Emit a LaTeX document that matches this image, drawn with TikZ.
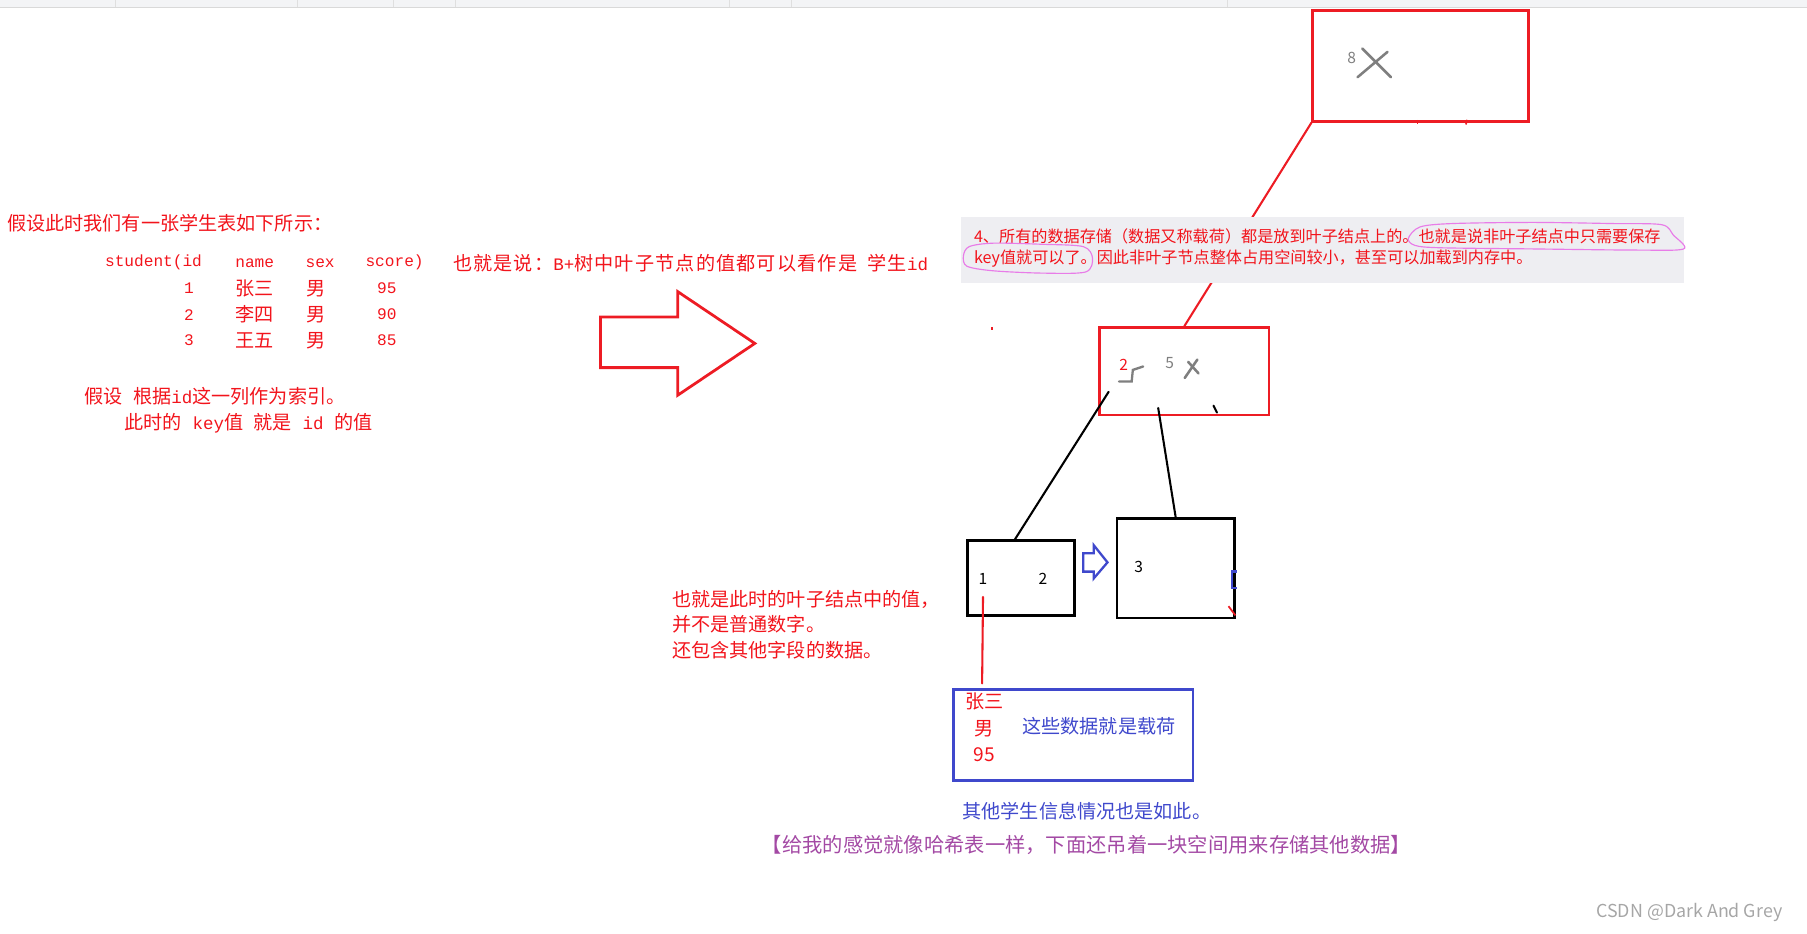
\documentclass[tikz,border=0pt]{standalone}
\usepackage{fontspec}
\usepackage{tikz}
\usetikzlibrary{arrows.meta,positioning,calc}
\newfontfamily\cjk{Noto Sans CJK SC}
\newfontfamily\monof{Liberation Mono}
\definecolor{PaintRed}{HTML}{ED1C24}
\definecolor{NoteRed}{HTML}{F2141C}
\definecolor{PaintBlue}{HTML}{3F48CC}
\definecolor{PaintPurple}{HTML}{A349A4}
\definecolor{PenPink}{HTML}{E87CE8}
\definecolor{NoteGrey}{HTML}{EEEEF2}
\definecolor{MarkGrey}{HTML}{7F7F7F}
\definecolor{BarGrey}{HTML}{F3F4F6}
\newcommand{\half}[1]{{\monof\fontsize{15.2}{17}\selectfont #1}}

\begin{document}
\begin{tikzpicture}[x=1pt, y=-1pt,
  every node/.style={font=\cjk\fontsize{16.6}{19}\selectfont, inner sep=0pt},
  note/.style={anchor=west, text=#1},
  note/.default=NoteRed,
  small/.style={font=\cjk\fontsize{14}{16}\selectfont},
  digit/.style={font=\cjk\fontsize{13.5}{15}\selectfont, text=#1},
  digit/.default=black,
  cell/.style={font=\monof\fontsize{14}{16}\selectfont, text=NoteRed, anchor=west},
  keybox/.style={draw=#1, line width=2.4pt, anchor=north west},
  scribble/.style={draw=MarkGrey, line width=2.2pt, line cap=round},
  link/.style={line width=1.8pt, line cap=round},
  loop/.style={draw=PenPink, line width=1pt}
]
\useasboundingbox (0,0) rectangle (1568,810);

% window toolbar
\fill[BarGrey] (0,0) rectangle (1568,6);
\draw[gray!30] (0,6.5) -- (1568,6.5);
\foreach \sx in {100,258,341,395,633,687,1065}
  \draw[gray!25] (\sx,0) -- (\sx,6);

% student table
\node[note] (intro) at (6,194) {假设此时我们有一张学生表如下所示：};
\node[cell] (hid) at (91,228) {student(id};
\node[cell] (hname) at (204,228) {name};
\node[cell] (hsex) at (265,228) {sex};
\node[cell] (hscore) at (317,228) {score)};
\foreach \id/\name/\score [count=\r] in {1/张三/95, 2/李四/90, 3/王五/85} {
  \node[cell, anchor=center] (id\r) at (164,228+22.5*\r) {\id};
  \node[note] (name\r) at (204,228+22.5*\r) {\name};
  \node[note] (sex\r) at (266,228+22.5*\r) {男};
  \node[cell] (score\r) at (327,228+22.5*\r) {\score};
}
\node[note] (index) at (73,344) {假设\half{ }根据\half{id}这一列作为索引。};
\node[note] (keyis) at (108,367) {此时的\half{ key}值\half{ }就是\half{ id }的值};
\node[note] (leafval) at (393,228) {\addfontfeatures{LetterSpace=6}也就是说：\half{B+}树中叶子节点的值都可以看作是\half{ }学生\half{id}};

% big arrow
\draw[draw=PaintRed, line width=2.4pt] (521,275) -- (588,275) -- (588,253) -- (655,298)
  -- (588,343) -- (588,319) -- (521,319) -- cycle;
\fill[PaintRed] (860,284) rectangle (862,286);

% tree
\node[keybox=PaintRed, minimum width=187, minimum height=96] (root) at (1138,8) {};
\node[keybox=PaintRed, minimum width=147, minimum height=76] (mid) at (953,283) {};
\node[keybox=black, minimum width=93, minimum height=65] (leaf1) at (838,468) {};
\node[keybox=black, minimum width=102, minimum height=86] (leaf2) at (968,449) {};
\node[keybox=PaintBlue, minimum width=208, minimum height=79] (payload) at (826,597) {};

\draw[link, PaintRed] (root.south west) -- (mid.north);
\draw[PaintRed, line width=1.5pt] (1230,104) -- (1230,108);
\draw[PaintRed, line width=1.5pt] (1273,104) -- (1272,108);

% note on the grey band
\node[fill=NoteGrey, anchor=north west, minimum width=627, minimum height=57] (band) at (834,188) {};
\node[note, small] (band1) at (845,205) {4、所有的数据存储（数据又称载荷）都是放到叶子结点上的。也就是说非叶子结点中只需要保存};
\node[note, small] (band2) at (845,224) {key值就可以了。因此非叶子节点整体占用空间较小，甚至可以加载到内存中。};
\draw[loop] plot[smooth cycle] coordinates {(1222,207) (1232,197) (1260,194) (1330,193)
  (1400,194) (1442,195) (1452,204) (1461,216) (1420,217) (1330,216) (1250,215) (1228,213)};
\draw[loop] plot[smooth cycle] coordinates {(841,214) (862,211) (905,212) (940,214)
  (948,224) (942,236) (905,237) (862,235) (839,231) (836,222)};

% keys and scribbles
\node[digit=MarkGrey] (k8) at (1173,50) {8};
\draw[scribble] (1178,67) -- (1204,45);
\draw[scribble] (1182,42) -- (1207,67);
\node[digit=NoteRed] (k2) at (975,317) {2};
\draw[scribble, line width=2pt] (971,331) -- (982,331) -- (983,321) -- (992,318);
\node[digit=MarkGrey] (k5) at (1015,315) {5};
\draw[scribble] (1028,328) -- (1039,312);
\draw[scribble] (1031,314) -- (1040,324);
\draw[link] (1053,352) -- (1056,358);

\coordinate (midL) at (962,340);
\coordinate (midR) at (1005,354);
\draw[link] (midL) -- ([xshift=-5pt]leaf1.north);
\draw[link] (midR) -- (leaf2.north);

\node[digit] (l1) at (853,502) {1};
\node[digit] (l2) at (905,502) {2};
\node[digit] (l3) at (988,492) {3};

% link to the next leaf
\draw[draw=PaintBlue, line width=2pt] (940,480) -- (949,480) -- (949,473) -- (961,488)
  -- (949,502) -- (949,496) -- (940,496) -- cycle;
\draw[PaintBlue, line width=2pt] (1073,496) -- (1069,496) -- (1069,510) -- (1073,510);
\draw[PaintRed, line width=1.5pt] (1066,526) -- (1072,534);

% payload
\coordinate (keyone) at (853,518);
\draw[link, PaintRed] (keyone) -- ([xshift=-79pt, yshift=4pt]payload.north);
\node[text=NoteRed] (pname) at (854,609) {张三};
\node[text=NoteRed] (psex) at (854,632) {男};
\node[text=NoteRed] (pscore) at (854,655) {95};
\node[note=PaintBlue] (pload) at (887,630) {这些数据就是载荷};

\node[note] (leaf3a) at (583,520) {也就是此时的叶子结点中的值，};
\node[note] (leaf3b) at (583,542) {并不是普通数字。};
\node[note] (leaf3c) at (583,564) {还包含其他字段的数据。};

\node[note=PaintBlue] (others) at (835,704) {其他学生信息情况也是如此。};
\node[note=PaintPurple, font=\cjk\fontsize{17.6}{20}\selectfont] (hash) at (661,733)
  {【给我的感觉就像哈希表一样，下面还吊着一块空间用来存储其他数据】};

\node[anchor=west, text=gray!70, font=\cjk\fontsize{15.5}{18}\selectfont] (wm) at (1385,792) {CSDN @Dark And Grey};
\end{tikzpicture}
\end{document}
